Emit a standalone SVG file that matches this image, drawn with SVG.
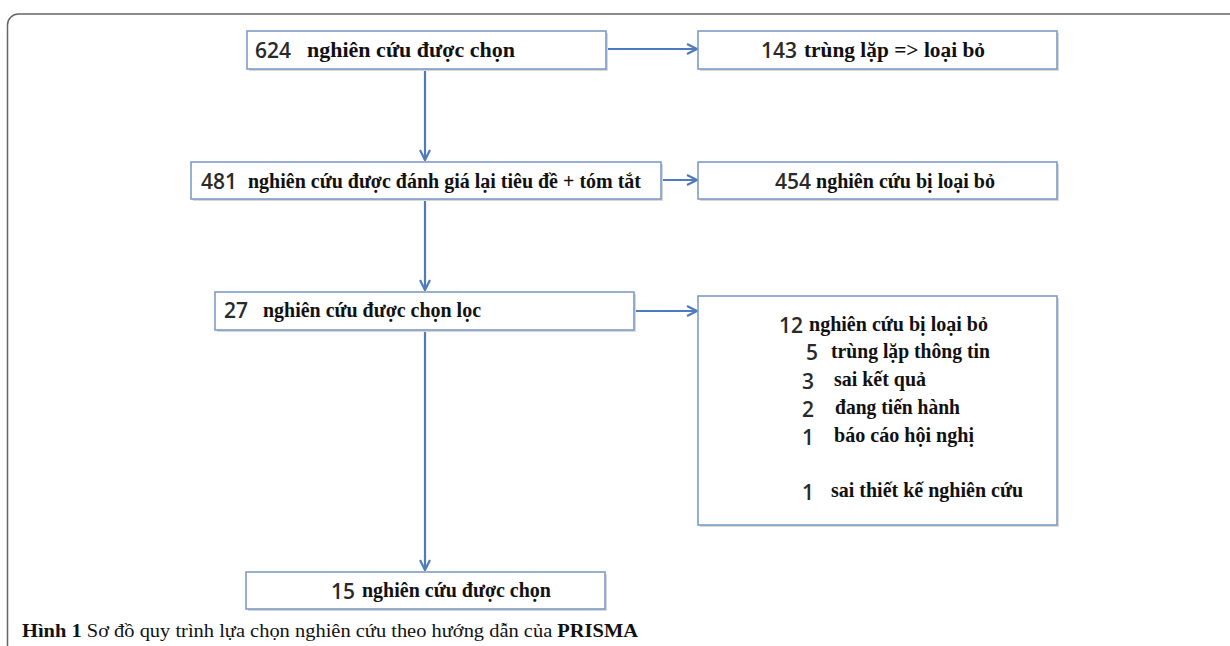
<svg xmlns="http://www.w3.org/2000/svg" width="1230" height="646" viewBox="0 0 1230 646">
<style>
.frame{fill:#fff;stroke:#666;stroke-width:1.5}
.box{fill:#fff;stroke:#7f9cc6;stroke-width:1.6}
.sh{fill:#d8d8d8}
.num{font-family:"Open Sans","Liberation Sans",Arial,sans-serif;font-size:21px;font-weight:600;fill:#2a2a2a}
.t{font-family:"Liberation Serif","Times New Roman",serif;font-size:21px;font-weight:bold;fill:#111}
.cap{font-family:"Liberation Serif","Times New Roman",serif;font-size:19px;fill:#111}
.conn{stroke:#4f7bbd;stroke-width:2.2;fill:none}
</style>
<defs>
<marker id="ah" viewBox="0 0 12 12" refX="11" refY="6" markerWidth="12" markerHeight="12" markerUnits="userSpaceOnUse" orient="auto">
<path d="M1,1 L11,6 L1,11" fill="none" stroke="#4f7bbd" stroke-width="2.2"/>
</marker>
</defs>
<rect width="1230" height="646" fill="#fff"/>
<rect class="frame" x="7.5" y="14" width="1240" height="660" rx="11"/>

<g id="connectors">
<line class="conn" x1="606" y1="49" x2="697" y2="49" marker-end="url(#ah)"/>
<line class="conn" x1="425" y1="69" x2="425" y2="160" marker-end="url(#ah)"/>
<line class="conn" x1="661" y1="180" x2="697" y2="180" marker-end="url(#ah)"/>
<line class="conn" x1="425" y1="199" x2="425" y2="290" marker-end="url(#ah)"/>
<line class="conn" x1="634" y1="311" x2="697" y2="311" marker-end="url(#ah)"/>
<line class="conn" x1="425" y1="330" x2="425" y2="570" marker-end="url(#ah)"/>
</g>

<g id="n1">
<rect class="sh" x="249" y="33" width="359" height="38"/>
<rect class="box" x="247" y="31" width="359" height="38"/>
<text class="num" x="255" y="58">624</text>
<text class="t" x="307" y="57" textLength="208" lengthAdjust="spacingAndGlyphs">nghiên cứu được chọn</text>
</g>

<g id="n2">
<rect class="sh" x="700" y="33" width="359" height="38"/>
<rect class="box" x="698" y="31" width="359" height="38"/>
<text class="num" x="761" y="58">143</text>
<text class="t" x="804" y="57" textLength="181" lengthAdjust="spacingAndGlyphs">trùng lặp =&gt; loại bỏ</text>
</g>

<g id="n3">
<rect class="sh" x="193" y="164" width="470" height="37"/>
<rect class="box" x="191" y="162" width="470" height="37"/>
<text class="num" x="201" y="189">481</text>
<text class="t" x="248" y="188" textLength="393" lengthAdjust="spacingAndGlyphs">nghiên cứu được đánh giá lại tiêu đề + tóm tắt</text>
</g>

<g id="n4">
<rect class="sh" x="700" y="164" width="359" height="37"/>
<rect class="box" x="698" y="162" width="359" height="37"/>
<text class="num" x="775" y="189">454</text>
<text class="t" x="816" y="188" textLength="179" lengthAdjust="spacingAndGlyphs">nghiên cứu bị loại bỏ</text>
</g>

<g id="n5">
<rect class="sh" x="217" y="294" width="419" height="38"/>
<rect class="box" x="215" y="292" width="419" height="38"/>
<text class="num" x="224" y="318">27</text>
<text class="t" x="263" y="317" textLength="218" lengthAdjust="spacingAndGlyphs">nghiên cứu được chọn lọc</text>
</g>

<g id="n6">
<rect class="sh" x="700" y="298" width="359" height="229"/>
<rect class="box" x="698" y="296" width="359" height="229"/>
<text class="num" x="779" y="333">12</text>
<text class="t" x="809" y="331" textLength="179" lengthAdjust="spacingAndGlyphs">nghiên cứu bị loại bỏ</text>
<text class="num" x="806" y="360">5</text>
<text class="t" x="831" y="358" textLength="159" lengthAdjust="spacingAndGlyphs">trùng lặp thông tin</text>
<text class="num" x="802" y="389">3</text>
<text class="t" x="834" y="386" textLength="92" lengthAdjust="spacingAndGlyphs">sai kết quả</text>
<text class="num" x="802" y="417">2</text>
<text class="t" x="835" y="414" textLength="125" lengthAdjust="spacingAndGlyphs">đang tiến hành</text>
<text class="num" x="802" y="445">1</text>
<text class="t" x="834" y="442" textLength="140" lengthAdjust="spacingAndGlyphs">báo cáo hội nghị</text>
<text class="num" x="802" y="500">1</text>
<text class="t" x="831" y="497" textLength="192" lengthAdjust="spacingAndGlyphs">sai thiết kế nghiên cứu</text>
</g>

<g id="n7">
<rect class="sh" x="248" y="574" width="359" height="37"/>
<rect class="box" x="246" y="572" width="359" height="37"/>
<text class="num" x="331" y="599">15</text>
<text class="t" x="362" y="597" textLength="189" lengthAdjust="spacingAndGlyphs">nghiên cứu được chọn</text>
</g>

<g id="caption">
<text class="cap" x="22" y="637" textLength="616" lengthAdjust="spacingAndGlyphs"><tspan font-weight="bold">Hình 1</tspan> Sơ đồ quy trình lựa chọn nghiên cứu theo hướng dẫn của <tspan font-weight="bold">PRISMA</tspan></text>
</g>
</svg>
